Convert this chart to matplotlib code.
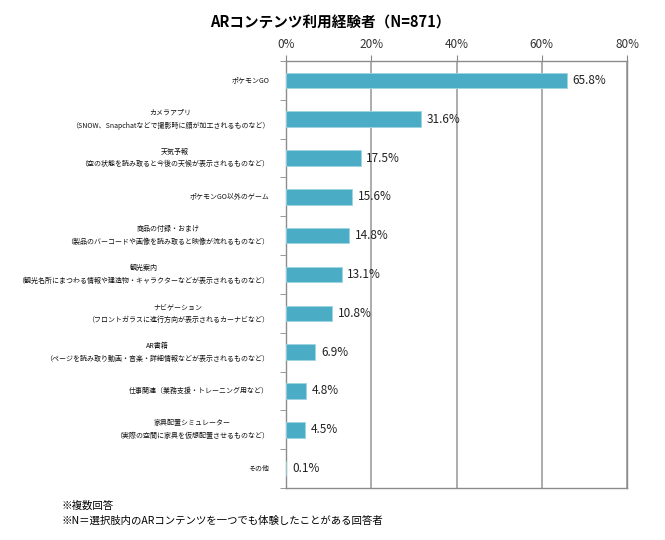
import numpy as np
import matplotlib.pyplot as plt
from matplotlib.ticker import FixedLocator

plt.rcParams['font.family'] = ['Noto Sans CJK JP', 'DejaVu Sans']

title = "ARコンテンツ利用経験者（N=871）"
categories = [
    "ポケモンGO",
    "カメラアプリ\n（SNOW、Snapchatなどで撮影時に顔が加工されるものなど）",
    "天気予報\n（空の状態を読み取ると今後の天候が表示されるものなど）",
    "ポケモンGO以外のゲーム",
    "商品の付録・おまけ\n（製品のバーコードや画像を読み取ると映像が流れるものなど）",
    "観光案内\n（観光名所にまつわる情報や建造物・キャラクターなどが表示されるものなど）",
    "ナビゲーション\n（フロントガラスに進行方向が表示されるカーナビなど）",
    "AR書籍\n（ページを読み取り動画・音楽・詳細情報などが表示されるものなど）",
    "仕事関連（業務支援・トレーニング用など）",
    "家具配置シミュレーター\n（実際の空間に家具を仮想配置させるものなど）",
    "その他",
]
values = [65.8, 31.6, 17.5, 15.6, 14.8, 13.1, 10.8, 6.9, 4.8, 4.5, 0.1]
xticks = [0, 20, 40, 60, 80]
notes = ["※複数回答", "※N＝選択肢内のARコンテンツを一つでも体験したことがある回答者"]

fig = plt.figure(figsize=(6.65, 5.4), dpi=100)
ax = fig.add_axes([0.430, 0.0963, 0.513, 0.7907])

y = np.arange(len(categories))
ax.barh(y, values, height=0.4, color="#4BACC6", edgecolor="#9DD3E2", linewidth=0.6, zorder=3)

for yi, v in zip(y, values):
    ax.annotate(f"{v:.1f}%", (v, yi), xytext=(4, 0), textcoords="offset points",
                va="center", ha="left", fontsize=8.5, color="#222222")

ax.set_xlim(0, 80)
ax.set_ylim(len(categories) - 0.5, -0.5)
ax.xaxis.tick_top()
ax.set_xticks(xticks)
ax.set_xticklabels([f"{t}%" for t in xticks], fontsize=8.5, color="#333333")
ax.tick_params(axis="x", length=4, color="#888888", pad=3)
ax.grid(axis="x", color="#A6A6A6", linewidth=1.3, zorder=0)

ax.set_yticks(y)
ax.set_yticklabels(categories, fontsize=5, linespacing=1.8, multialignment="center",
                   va="center", color="#111111")
ax.tick_params(axis="y", which="major", length=0, pad=12)
ax.yaxis.set_minor_locator(FixedLocator(np.arange(-0.5, len(categories), 1)))
ax.tick_params(axis="y", which="minor", length=4, color="#888888")

for s in ax.spines.values():
    s.set_color("#8C8C8C")
    s.set_linewidth(1.0)

fig.text(0.496, 0.958, title, ha="center", va="center", fontsize=10.5, fontweight="bold")
fig.text(0.093, 0.064, notes[0], ha="left", va="center", fontsize=7.5)
fig.text(0.093, 0.035, notes[1], ha="left", va="center", fontsize=7.5)

fig.savefig("out.png", dpi=100)
